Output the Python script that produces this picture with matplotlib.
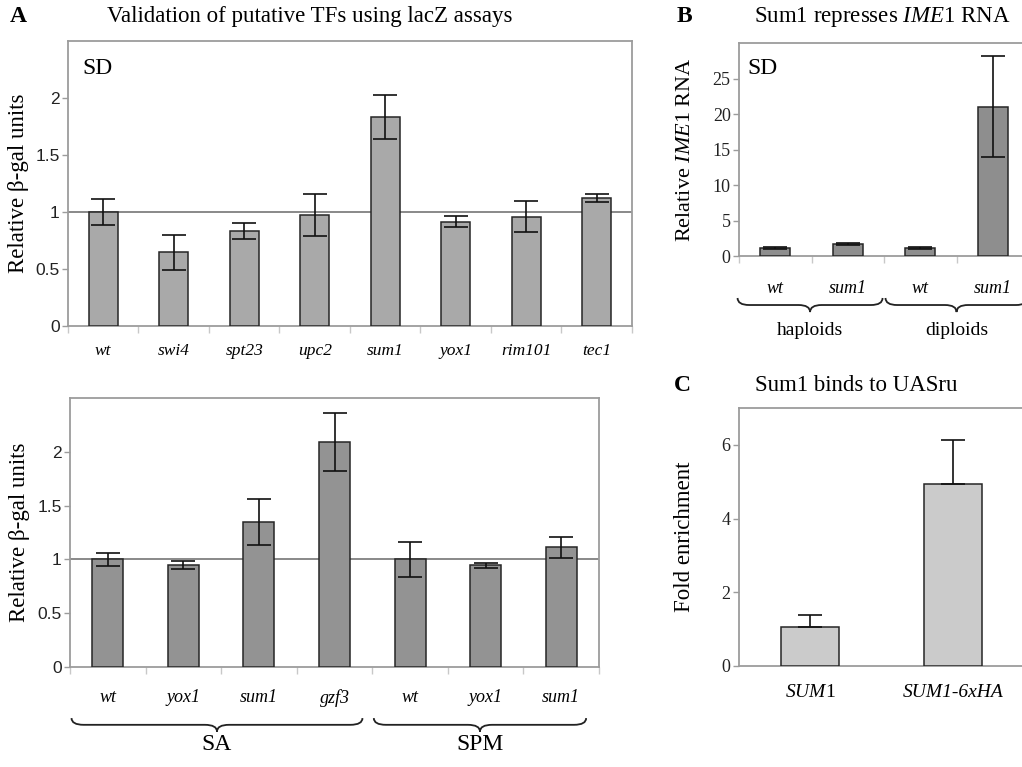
import matplotlib
matplotlib.use("Agg")
import matplotlib.pyplot as plt
import matplotlib.transforms as mtransforms
from matplotlib.path import Path
from matplotlib.patches import PathPatch
from matplotlib.ticker import FixedLocator

plt.rcParams["font.family"] = ["Liberation Serif", "DejaVu Serif"]
plt.rcParams["mathtext.fontset"] = "custom"
plt.rcParams["mathtext.rm"] = "Liberation Serif"
plt.rcParams["mathtext.it"] = "Liberation Serif:italic"
plt.rcParams["mathtext.bf"] = "Liberation Serif:bold"

# ---- data ----
sd_labels = ["wt", "swi4", "spt23", "upc2", "sum1", "yox1", "rim101", "tec1"]
sd_vals = [1.00, 0.645, 0.833, 0.974, 1.83, 0.915, 0.959, 1.125]
sd_err = [0.115, 0.157, 0.07, 0.187, 0.194, 0.05, 0.135, 0.035]

spo_labels = ["wt", "yox1", "sum1", "gzf3", "wt", "yox1", "sum1"]
spo_vals = [1.00, 0.946, 1.348, 2.087, 1.00, 0.946, 1.113]
spo_err = [0.057, 0.035, 0.212, 0.27, 0.16, 0.025, 0.096]
spo_groups = ["SA", "SPM"]

rna_labels = ["wt", "sum1", "wt", "sum1"]
rna_vals = [1.13, 1.74, 1.13, 21.05]
rna_err = [0.1, 0.12, 0.1, 7.12]
rna_groups = ["haploids", "diploids"]

chip_labels = [r"$\mathit{SUM}$1", "SUM1-6xHA"]
chip_vals = [1.06, 4.94]
chip_err = [0.32, 1.2]

SPINE = "#9c9c9c"
EDGE = "#262626"

fig = plt.figure(figsize=(10.22, 7.67), dpi=100)


def bar_panel(rect, labels, vals, err, color, ymax, yticks, tickfont, lab_size,
              lab_pad, minor=True, lolims=False):
    ax = fig.add_axes(rect)
    x = list(range(len(vals)))
    yerr = [[0] * len(err), err] if lolims else err
    ax.bar(x, vals, width=0.41, color=color, edgecolor=EDGE, linewidth=1.1, zorder=3)
    ax.errorbar(x, vals, yerr=yerr, fmt="none", ecolor="#111111", elinewidth=1.2,
                capsize=8.5, capthick=1.2, zorder=4)
    ax.set_xlim(-0.5, len(vals) - 0.5)
    ax.set_ylim(0, ymax)
    ax.set_yticks(yticks)
    ax.set_yticklabels([f"{t:g}" for t in yticks], family=tickfont, fontsize=12.5,
                       color="#222222")
    ax.set_xticks(x)
    ax.set_xticklabels(labels, fontsize=lab_size, style="italic")
    ax.tick_params(axis="x", which="major", length=0, pad=lab_pad)
    ax.tick_params(axis="y", length=4, color=SPINE, width=1, pad=2)
    if minor:
        ax.xaxis.set_minor_locator(FixedLocator([i + 0.5 for i in range(-1, len(vals))]))
        ax.tick_params(axis="x", which="minor", length=5, color="#c8c8c8", width=1)
    for s in ax.spines.values():
        s.set_color(SPINE)
        s.set_linewidth(1.3)
    return ax


def brace(ax, x0, x1, ytop, depth, r):
    trans = mtransforms.blended_transform_factory(ax.transData, ax.transAxes)
    xm = (x0 + x1) / 2
    ym = ytop - depth * 0.5
    yb = ytop - depth
    verts = [(x0, ytop), (x0, ym), (x0 + r, ym), (xm - r, ym), (xm, ym), (xm, yb),
             (xm, ym), (xm + r, ym), (x1 - r, ym), (x1, ym), (x1, ytop)]
    codes = [Path.MOVETO, Path.CURVE3, Path.CURVE3, Path.LINETO, Path.CURVE3, Path.CURVE3,
             Path.CURVE3, Path.CURVE3, Path.LINETO, Path.CURVE3, Path.CURVE3]
    ax.add_patch(PathPatch(Path(verts, codes), fill=False, lw=1.3, edgecolor="#222222",
                           transform=trans, clip_on=False))
    return xm, trans


# ---- A, top (SD) ----
axA1 = bar_panel([0.0665, 0.5750, 0.5519, 0.3716], sd_labels, sd_vals, sd_err,
                 "#a9a9a9", 2.5, [0, 0.5, 1, 1.5, 2], "Liberation Sans", 12.5, 12)
axA1.axhline(1, color="#808080", lw=1.3, zorder=2)
axA1.set_ylabel("Relative β-gal units", fontsize=16.5, va="center")
axA1.yaxis.set_label_coords(-0.087, 0.5)
axA1.text(0.025, 0.905, "SD", transform=axA1.transAxes, fontsize=17, va="center")

# ---- A, bottom (SA / SPM) ----
axA2 = bar_panel([0.0685, 0.1304, 0.5176, 0.3507], spo_labels, spo_vals, spo_err,
                 "#939393", 2.5, [0, 0.5, 1, 1.5, 2], "Liberation Sans", 13, 16)
axA2.axhline(1, color="#808080", lw=1.3, zorder=2)
axA2.set_ylabel("Relative β-gal units", fontsize=16.5, va="center")
axA2.yaxis.set_label_coords(-0.096, 0.5)
for (g0, g1), name in zip([(-0.48, 3.37), (3.52, 6.33)], spo_groups):
    xm, tr = brace(axA2, g0, g1, -0.19, 0.05, 0.16)
    axA2.text(xm, -0.29, name, transform=tr, ha="center", va="center", fontsize=17)

# ---- B ----
axB = bar_panel([0.7231, 0.6662, 0.2838, 0.2777], rna_labels, rna_vals, rna_err,
                "#8e8e8e", 30, [0, 5, 10, 15, 20, 25], "Liberation Serif", 13, 17)
axB.set_ylabel(r"Relative $\mathit{IME1}$ RNA", fontsize=16, va="center")
axB.yaxis.set_label_coords(-0.186, 0.5)
axB.text(0.03, 0.88, "SD", transform=axB.transAxes, fontsize=17, va="center")
for (g0, g1), name in zip([(-0.52, 1.48), (1.52, 3.48)], rna_groups):
    xm, tr = brace(axB, g0, g1, -0.197, 0.066, 0.16)
    axB.text(xm, -0.35, name, transform=tr, ha="center", va="center", fontsize=14)
for lbl in axB.get_yticklabels():
    lbl.set_fontsize(13)

# ---- C ----
axC = bar_panel([0.7231, 0.1317, 0.2789, 0.3364], chip_labels, chip_vals, chip_err,
                "#cbcbcb", 7, [0, 2, 4, 6], "Liberation Serif", 14, 13,
                minor=False, lolims=True)
axC.set_ylabel("Fold enrichment", fontsize=16.5, va="center")
axC.yaxis.set_label_coords(-0.19, 0.5)
axC.get_xticklabels()[0].set_fontstyle("normal")
for lbl in axC.get_yticklabels():
    lbl.set_fontsize(13)

# ---- panel letters and titles ----
fig.text(0.0098, 0.978, "A", fontsize=17, weight="bold", va="center")
fig.text(0.3033, 0.978, "Validation of putative TFs using lacZ assays", fontsize=16.5,
         ha="center", va="center")
fig.text(0.670, 0.978, "B", fontsize=17, weight="bold", ha="center", va="center")
fig.text(0.863, 0.978, r"Sum1 represses $\mathit{IME1}$ RNA", fontsize=16.5,
         ha="center", va="center")
fig.text(0.668, 0.498, "C", fontsize=17, weight="bold", ha="center", va="center")
fig.text(0.8376, 0.498, "Sum1 binds to UASru", fontsize=16.5, ha="center", va="center")

fig.savefig("out.png", dpi=100)
